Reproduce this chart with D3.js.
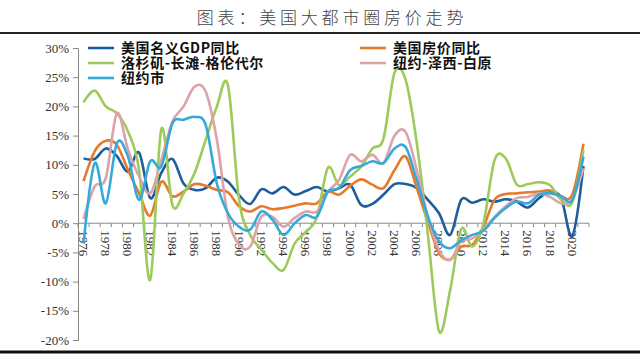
<!DOCTYPE html>
<html><head><meta charset="utf-8">
<script src="https://cdn.jsdelivr.net/npm/d3@7/dist/d3.min.js"></script>
<style>html,body{margin:0;padding:0;background:#fff;}svg{display:block;}</style>
</head><body>
<script>
const years = d3.range(1976, 2022);
const gdp = [11.1,11.0,12.8,11.5,8.8,12.1,4.3,8.6,11.0,6.8,
  5.7,6.0,7.8,7.1,4.8,3.3,5.8,5.1,6.2,4.9,
  5.5,6.2,5.4,6.0,6.6,3.1,3.3,4.9,6.7,6.7,
  6.0,4.0,1.7,-2.0,4.0,3.5,4.1,3.7,4.1,3.7,
  2.7,4.3,5.3,4.3,-2.2,9.8];
const usHouse = [7.2,12.3,14.1,13.4,9.1,5.1,1.3,7.1,4.6,5.4,
  6.7,6.4,5.7,5.3,2.9,2.0,2.9,2.4,2.6,3.0,
  3.4,3.4,5.4,4.9,6.4,7.5,6.6,6.0,9.1,11.4,
  6.0,0.2,-5.1,-6.2,-4.0,-3.7,-0.6,4.0,5.0,5.1,
  5.3,5.4,5.6,4.6,4.9,13.6];
const la = [20.7,22.7,20.0,18.8,15.7,9.1,-9.7,16.1,3.1,5.1,
  8.6,14.3,20.0,23.6,4.0,-2.0,-4.5,-6.8,-8.0,-3.5,
  -1.5,1.0,9.5,6.5,8.0,9.7,12.8,14.5,25.8,24.5,
  13.7,-2.0,-18.5,-11.5,-1.0,-4.0,0.0,10.8,11.1,6.6,
  6.7,7.0,6.5,4.0,3.6,12.5];
const nynj = [0.7,6.3,7.7,18.8,12.6,8.0,5.1,10.8,17.4,20.0,
  23.4,22.5,14.3,1.1,-3.7,-4.0,1.1,1.1,-0.6,0.9,
  2.0,2.0,5.4,7.4,11.7,10.6,11.7,10.3,15.0,15.6,
  9.1,1.1,-4.6,-6.3,-3.1,-2.6,-1.1,1.1,2.9,4.3,
  4.5,5.1,4.5,3.4,4.1,9.4];
const nyc = [-3.5,10.3,3.4,13.7,11.4,4.0,10.6,9.7,17.1,17.7,
  18.2,16.8,6.8,1.7,-0.6,-1.1,2.0,0.6,-2.0,0.0,
  1.4,1.1,5.4,6.0,9.1,9.8,10.6,10.3,12.8,13.0,
  7.4,1.1,-3.1,-4.3,-2.9,-2.0,-1.3,0.9,2.6,3.7,
  3.4,4.9,5.1,4.6,4.0,11.4];
const seriesNames = ["美国名义GDP同比","美国房价同比","洛杉矶-长滩-格伦代尔","纽约-泽西-白原","纽约市"];
const seriesColors = ["#1F5E9E","#E8792B","#9CCB5B","#DDA3A9","#35A9DA"];
const yTicks = [30,25,20,15,10,5,0,-5,-10,-15,-20];
const xLabelYears = d3.range(1976, 2021, 2);
const title = "图表：美国大都市圈房价走势";

const W = 640, H = 357;
const svg = d3.select("body").append("svg").attr("width", W).attr("height", H);
svg.append("rect").attr("width", W).attr("height", H).attr("fill", "#fff");

// title
svg.append("text").attr("x", 332).attr("y", 24).attr("text-anchor", "middle")
  .attr("font-family", "'Noto Sans CJK SC'").attr("font-weight", 300).attr("font-size", 17).attr("letter-spacing", 3.8)
  .attr("fill", "#444").text(title);
svg.append("line").attr("x1", 0).attr("x2", W).attr("y1", 33).attr("y2", 33)
  .attr("stroke", "#222").attr("stroke-width", 2);
svg.append("line").attr("x1", 0).attr("x2", W).attr("y1", 352).attr("y2", 352)
  .attr("stroke", "#111").attr("stroke-width", 3);

const x = d3.scaleBand().domain(years).range([78, 589]).padding(0);
const y = d3.scaleLinear().domain([-20, 30]).range([340, 48]);

// y axis
const yAxis = d3.axisLeft(y).tickValues(yTicks).tickFormat(d => d + "%").tickSize(5).tickPadding(4);
const gy = svg.append("g").attr("transform", "translate(78,0)").call(yAxis);
gy.select(".domain").attr("stroke", "#888");
gy.selectAll(".tick line").attr("stroke", "#888");
gy.selectAll(".tick text").attr("font-family", "'Liberation Serif'").attr("font-size", 13).attr("fill", "#333");

// x axis at 0
const gx = svg.append("g").attr("transform", `translate(0,${y(0)})`);
gx.append("line").attr("x1", 78).attr("x2", 589).attr("stroke", "#888");
const bounds = years.map(d => x(d)).concat([x(2021) + x.bandwidth()]);
gx.selectAll("line.tk").data(bounds).enter().append("line").attr("class", "tk")
  .attr("x1", d => d).attr("x2", d => d).attr("y1", 0).attr("y2", 4).attr("stroke", "#888");
gx.selectAll("text").data(xLabelYears).enter().append("text")
  .attr("transform", d => `translate(${x(d) + x.bandwidth() / 2},7) rotate(90)`)
  .attr("dy", "0.35em").attr("text-anchor", "start")
  .attr("font-family", "'Liberation Serif'").attr("font-size", 13).attr("fill", "#333")
  .text(d => d);

// lines
const allSeries = [gdp, usHouse, la, nynj, nyc];
const line = d3.line().x((d, i) => x(years[i]) + x.bandwidth() / 2).y(d => y(d))
  .curve(d3.curveCatmullRom.alpha(0));
allSeries.forEach((s, k) => {
  svg.append("path").datum(s).attr("d", line).attr("fill", "none")
    .attr("stroke", seriesColors[k]).attr("stroke-width", 2.6).attr("stroke-linejoin", "round");
});

// legend
const legendPos = [[88, 48], [360, 48], [88, 63], [360, 63], [88, 78]];
seriesNames.forEach((n, k) => {
  const [lx, ly] = legendPos[k];
  svg.append("line").attr("x1", lx).attr("x2", lx + 26).attr("y1", ly).attr("y2", ly)
    .attr("stroke", seriesColors[k]).attr("stroke-width", 2.6);
  svg.append("text").attr("x", lx + 33).attr("y", ly).attr("dy", "0.36em")
    .attr("font-family", "'Noto Sans CJK SC'").attr("font-weight", 700).attr("font-size", 14)
    .attr("letter-spacing", 0.6)
    .attr("fill", "#111").text(n);
});
</script>
</body></html>
